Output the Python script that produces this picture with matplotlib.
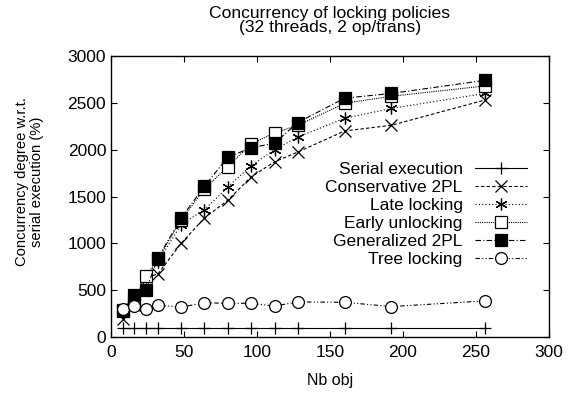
import matplotlib
matplotlib.use("Agg")
import matplotlib.pyplot as plt

plt.rcParams["font.family"] = ["Liberation Sans", "DejaVu Sans"]
plt.rcParams["font.size"] = 12.5

nb_obj = [8, 16, 24, 32, 48, 64, 80, 96, 112, 128, 160, 192, 256]

serial = [100] * len(nb_obj)
conservative = [190, 340, 640, 670, 1000, 1270, 1460, 1710, 1870, 1975, 2200, 2260, 2530]
late = [260, 390, 640, 800, 1200, 1360, 1600, 1830, 2000, 2135, 2335, 2440, 2600]
early = [280, 380, 650, 830, 1250, 1580, 1820, 2060, 2180, 2260, 2495, 2570, 2680]
generalized = [290, 450, 500, 840, 1270, 1610, 1920, 2020, 2070, 2290, 2550, 2600, 2740]
tree = [300, 330, 300, 340, 320, 365, 360, 360, 330, 375, 370, 325, 385]

series = [
    ("Serial execution", serial, "+", "black", (None, None)),
    ("Conservative 2PL", conservative, "x", "black", (3, 2)),
    ("Late locking", late, (6, 2, 0), "black", (1, 2)),
    ("Early unlocking", early, "s", "white", (1, 1)),
    ("Generalized 2PL", generalized, "s", "black", (5, 2, 1, 2)),
    ("Tree locking", tree, "o", "white", (4, 2, 1, 2, 1, 2)),
]

fig = plt.figure(figsize=(5.74, 3.93), dpi=100)
ax = fig.add_axes([0.1934, 0.1425, 0.763, 0.715])

for label, vals, marker, face, dash in series:
    line, = ax.plot(nb_obj, vals, color="black", lw=0.8, marker=marker,
                    markersize=8.5, markerfacecolor=face,
                    markeredgecolor="black", markeredgewidth=0.9, label=label)
    if dash[0] is not None:
        line.set_dashes(dash)

ax.set_xlim(0, 300)
ax.set_ylim(0, 3000)
ax.set_xticks(range(0, 301, 50))
ax.set_yticks(range(0, 3001, 500))
ax.tick_params(direction="in", top=True, right=True, length=4, width=0.8)
ax.tick_params(axis="x", pad=6)
for s in ax.spines.values():
    s.set_linewidth(1.0)

ax.set_xlabel("Nb obj", labelpad=9, fontsize=11.5)
ax.set_ylabel("Concurrency degree w.r.t.\nserial execution (%)",
              fontsize=10.6, linespacing=1.05)
ax.yaxis.set_label_coords(-0.153, 0.552)
ax.set_title("Concurrency of locking policies\n(32 threads, 2 op/trans)",
             pad=17, linespacing=0.95, fontsize=12.6)

ax.legend(loc="upper right", bbox_to_anchor=(0.918, 0.588), bbox_transform=fig.transFigure,
          frameon=False, markerfirst=False, handlelength=3.0, handletextpad=0.7,
          labelspacing=0.16, borderpad=0, borderaxespad=0)

fig.savefig("out.png", dpi=100)
